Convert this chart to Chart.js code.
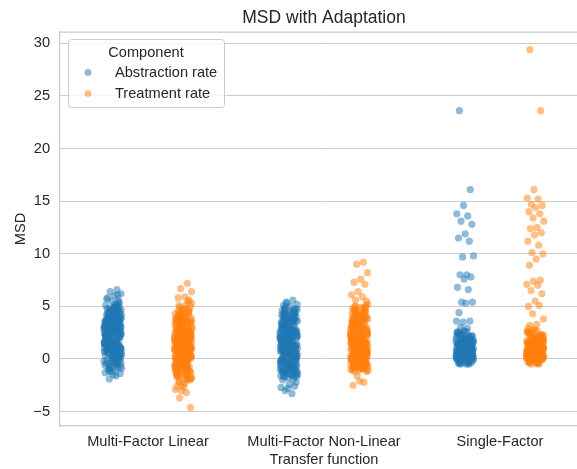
<!DOCTYPE html>
<html>
<head>
<meta charset="utf-8">
<script src="https://cdn.jsdelivr.net/npm/chart.js@4.4.1/dist/chart.umd.min.js"></script>
<style>
  html, body { margin: 0; padding: 0; background: #fff; overflow: hidden; }
  canvas { display: block; }
</style>
</head>
<body>
<canvas id="msd-chart" width="648" height="469"></canvas>
<script>
const CATEGORIES = ['Multi-Factor Linear', 'Multi-Factor Non-Linear', 'Single-Factor'];
const COMPONENTS = ['Abstraction rate', 'Treatment rate'];
const Y_TICKS = [-5, 0, 5, 10, 15, 20, 25, 30];

// MSD values, one array per strip
const linearAbstraction = [
  2.1, 3.4, 0.8, 1.7, 4.2, -0.3, 2.9, 1.2, 3.8, 0.4, 2.5, 5.1, 1.9, -0.8, 3.1,
  0.6, 2.2, 4.6, 1.4, 3.6, -1.1, 2.7, 0.1, 3.3, 1.8, 4.9, 0.9, 2.4, -0.5, 3.9,
  1.5, 2.8, 0.3, 4.4, 2.0, 1.1, 3.5, -0.1, 2.6, 4.0, 0.7, 3.2, 1.6, 5.3, -0.9,
  2.3, 3.7, 1.0, 4.7, 0.2, 2.9, 1.3, 3.0, -0.6, 4.3, 1.9, 2.5, 0.5, 3.6, 5.0,
  1.2, -0.2, 2.7, 4.1, 0.8, 3.4, 1.7, 2.1, -1.2, 3.8, 0.0, 4.8, 2.4, 1.4, 3.1,
  0.6, 2.0, 4.5, 1.8, -0.4, 3.3, 2.6, 0.9, 5.2, 1.5, 3.9, 0.3, 2.2, 4.2, -0.7,
  1.1, 2.8, 3.5, 0.4, 4.6, 1.6, 2.3, -1.0, 3.7, 0.7, 2.9, 4.0, 1.3, 3.0, 0.1,
  2.5, 5.4, 1.0, 3.2, -0.3, 2.1, 4.4, 0.5, 1.9, 3.6, 2.7, -0.9, 4.9, 1.2, 3.4,
  0.8, 2.4, 1.7, 4.3, 0.2, 3.8, 2.0, -0.5, 3.1, 1.4, 5.0, 0.6, 2.6, 4.7, 1.8,
  6.6, 6.4, 6.2, 6.0, 5.8, 5.6, 5.5, -1.3, -1.6, -1.9, -1.4, -1.5, 5.7, 6.1, -1.2,
  3.0, 1.4, 2.6, 0.2, 4.1, 1.9, 3.3, -0.6, 2.4, 4.6, 0.9, 3.7, 1.5, 2.8, 0.0,
  4.4, 2.1, 1.1, 3.5, -0.2, 2.9, 0.6, 4.0, 1.7, 3.2, 0.3, 2.3, 5.1, 1.2, 3.9,
  0.8, 2.7, -0.8, 4.3, 1.6, 3.4, 2.0, 0.5, 3.1, 1.3, 4.8, 2.5, -0.4, 3.6, 1.0,
  2.2, 4.5, 0.7, 3.0, 1.8, -0.1, 2.6, 4.2, 1.4, 3.8, 0.4, 2.9, 1.9, 5.0, 0.1,
  3.3, 1.5, 2.4, -0.7, 4.7, 2.0, 0.9, 3.5, 1.1, 2.8, 4.1, 0.6, 3.2, 1.7, -0.3,
  2.3, 3.9, 1.2, 4.4, 0.2, 2.7, 1.6, 3.6, -1.0, 2.1, 4.9, 0.8, 3.0, 1.3, 2.5,
  4.0, 0.5, 3.4, 1.8, 2.2, -0.5, 4.6, 1.0, 3.7, 2.6, 0.3, 3.1, 1.4, 4.3, 1.9,
  2.9, 0.0, 3.8, 2.4, 1.1, 4.2, 0.7, 3.3, 2.0, -0.2, 3.5, 1.5, 4.8, 2.7, 0.9
];
const linearTreatment = [
  1.2, 2.6, -0.4, 0.9, 3.5, -1.5, 2.0, 0.3, 4.1, -0.8, 1.7, 3.0, -2.0, 0.6, 2.4,
  4.8, -0.1, 1.4, 3.3, -1.1, 0.8, 2.2, 5.0, -0.6, 1.9, 0.0, 3.8, -1.8, 2.7, 1.0,
  0.4, 3.1, -0.3, 1.6, 4.4, -1.3, 2.5, 0.7, 2.9, -0.9, 1.1, 3.6, -2.2, 0.2, 2.1,
  1.5, -0.5, 4.0, 0.9, 2.8, -1.6, 1.3, 3.4, 0.1, 5.2, -0.2, 2.3, 1.8, -1.0, 3.9,
  0.5, 2.0, -1.4, 4.6, 1.2, -0.7, 2.6, 0.3, 3.2, -1.9, 1.7, 0.8, 4.3, -0.4, 2.4,
  1.0, 3.7, -1.2, 0.6, 2.9, -0.1, 1.4, 5.3, -2.3, 2.2, 0.0, 3.5, 1.6, -0.8, 4.9,
  0.4, 2.7, -1.7, 1.1, 3.0, -0.6, 1.9, 4.2, 0.2, 2.5, -1.3, 0.7, 3.3, 1.5, -0.3,
  2.1, 4.5, -0.9, 1.3, 3.8, -2.1, 0.9, 2.8, 0.1, -1.1, 1.8, 3.6, -0.5, 2.3, 4.7,
  0.5, 1.0, -1.5, 3.1, 2.0, -0.2, 4.0, 0.8, 1.6, -0.7, 2.6, 5.1, -1.8, 1.2, 3.4,
  7.2, 6.7, 6.4, 5.9, 5.8, 5.6, -2.5, -2.9, -3.2, -3.7, -4.6, -2.7, -2.6, 5.5, -3.0,
  0.9, 2.3, -0.7, 1.6, 3.2, -0.1, 2.8, 0.4, 3.9, -1.2, 1.3, 2.6, 0.0, 4.3, -0.5,
  1.9, 3.5, 0.7, -1.6, 2.1, 4.6, 1.1, -0.3, 2.9, 0.5, 3.7, -0.9, 1.7, 2.4, 0.2,
  4.0, -1.4, 1.4, 3.1, 0.8, -0.2, 2.5, 1.0, 4.8, -0.6, 2.0, 3.4, 0.3, -1.9, 1.5,
  2.7, 0.1, 3.8, 1.2, -0.8, 2.2, 4.4, 0.6, -1.1, 1.8, 3.0, -0.4, 2.6, 1.4, 0.0,
  3.6, -1.5, 0.9, 2.3, 4.1, -0.1, 1.6, 0.4, 3.3, -0.7, 2.0, 1.1, 4.7, -1.3, 2.8,
  0.7, 1.9, 3.5, -0.5, 1.3, 2.5, 0.2, -1.7, 3.9, 1.0, 0.5, 2.2, -0.9, 4.2, 1.7,
  -0.2, 3.0, 0.8, 2.7, -1.0, 1.5, 3.6, 0.1, 2.4, -0.6, 4.5, 1.2, 0.3, 3.2, -1.4,
  2.1, 0.6, 3.8, -0.3, 1.8, 2.9, 0.0, 4.0, -2.0, 1.4, 2.6, 0.9, -0.8, 3.4, 1.1
];
const nonLinearAbstraction = [
  1.5, 2.8, -0.6, 0.9, 3.7, -1.4, 2.2, 0.3, 4.1, -0.2, 1.8, 3.2, -1.0, 0.6, 2.6,
  4.5, 0.0, 1.2, 3.5, -1.6, 0.8, 2.0, 4.8, -0.8, 1.6, 0.2, 3.9, -1.2, 2.9, 1.0,
  0.4, 3.0, -0.4, 1.4, 4.3, -1.7, 2.4, 0.7, 2.7, -0.9, 1.1, 3.6, -1.3, 0.1, 2.1,
  1.7, -0.3, 4.0, 0.5, 3.3, -1.5, 1.3, 3.1, -0.1, 4.6, 0.9, 2.3, 1.9, -1.1, 3.8,
  0.6, 2.5, -0.7, 4.4, 1.2, -1.8, 2.8, 0.3, 3.4, -0.5, 1.5, 0.8, 4.2, -1.0, 2.0,
  1.0, 3.7, -0.2, 0.4, 2.9, -1.4, 1.6, 4.7, 0.0, 2.2, -0.6, 3.5, 1.8, -1.6, 4.9,
  0.2, 2.6, -0.9, 1.1, 3.0, -0.3, 1.9, 4.1, 0.7, 2.4, -1.2, 0.5, 3.3, 1.4, -0.8,
  2.1, 4.5, -0.4, 1.3, 3.9, -1.7, 0.9, 2.7, 0.1, -1.1, 1.7, 3.6, -0.1, 2.3, 4.3,
  0.6, 1.0, -1.5, 3.2, 2.0, -0.5, 4.0, 0.8, 1.5, -0.7, 2.5, 4.8, -1.3, 1.2, 3.4,
  5.6, 5.4, 5.2, 5.0, 5.1, -2.6, -2.8, -2.7, -3.3, -3.0, -2.2, -2.4, -2.0, -1.9, 5.3,
  2.0, 0.5, 3.4, -0.9, 1.3, 4.2, 0.1, 2.7, -1.4, 1.8, 3.8, 0.7, -0.4, 2.4, 1.1,
  4.5, -1.1, 0.9, 3.1, 1.6, -0.2, 2.2, 4.0, 0.3, -1.6, 1.4, 3.5, 0.8, 2.9, -0.7,
  1.9, 0.0, 4.4, 1.2, -1.0, 2.6, 3.3, 0.4, -0.5, 1.7, 3.9, 0.6, 2.1, -1.3, 1.0,
  4.7, 0.2, 2.8, -0.8, 1.5, 3.6, 0.9, -0.1, 2.3, 4.1, -1.5, 1.2, 3.0, 0.5, 2.5,
  -0.6, 1.8, 4.3, 0.0, 2.0, -1.2, 3.2, 1.4, 0.7, 3.7, -0.3, 2.6, 1.1, 4.6, -0.9,
  1.6, 0.3, 2.9, -1.7, 1.0, 3.4, 0.8, 2.2, -0.4, 4.0, 1.3, 0.1, 3.1, -1.1, 1.9,
  2.7, 0.6, 4.4, -0.6, 1.5, 3.5, 0.4, 2.4, -1.4, 1.2, 3.8, 0.9, -0.2, 2.1, 4.8,
  0.2, 1.7, 3.3, -0.8, 2.5, 1.0, 4.2, -1.0, 0.5, 2.8, 1.6, 3.9, -0.5, 1.3, 0.7
];
const nonLinearTreatment = [
  1.8, 3.0, 0.2, 1.2, 3.9, -0.8, 2.4, 0.7, 4.5, 0.0, 2.0, 3.4, -0.4, 1.0, 2.7,
  4.9, 0.4, 1.6, 3.7, -1.0, 1.3, 2.3, 5.1, -0.2, 1.9, 0.6, 4.2, -0.6, 3.1, 1.4,
  0.9, 3.3, 0.1, 1.7, 4.6, -1.2, 2.6, 1.1, 2.9, -0.3, 1.5, 3.8, -0.9, 0.5, 2.2,
  2.0, 0.3, 4.3, 0.8, 3.5, -0.7, 1.6, 3.2, 0.0, 4.8, 1.2, 2.5, 2.1, -0.5, 4.0,
  1.0, 2.8, -0.1, 4.7, 1.4, -1.1, 3.0, 0.6, 3.6, 0.2, 1.8, 1.1, 4.4, -0.4, 2.3,
  1.3, 3.9, 0.4, 0.8, 3.1, -0.8, 1.9, 5.2, 0.1, 2.4, -0.2, 3.7, 2.0, -0.6, 4.1,
  0.7, 2.7, -0.3, 1.5, 3.3, 0.3, 2.2, 4.5, 0.9, 2.6, -1.0, 1.0, 3.4, 1.7, 0.0,
  2.5, 4.9, 0.2, 1.6, 4.2, -0.7, 1.2, 2.9, 0.5, -0.5, 2.1, 3.8, 0.4, 2.8, 4.6,
  1.1, 1.4, -0.9, 3.5, 2.3, 0.1, 4.0, 1.3, 1.8, -0.1, 2.7, 5.0, -0.4, 1.5, 3.6,
  9.2, 9.0, 8.2, 7.6, 7.3, 7.1, 6.4, 6.1, 5.9, 5.6, 5.5, -2.1, -2.5, -2.2, -1.6,
  2.2, 0.6, 3.6, -0.4, 1.5, 4.3, 0.9, 2.8, -0.8, 1.9, 3.9, 1.1, 0.2, 2.5, 1.4,
  4.7, -0.2, 1.2, 3.2, 1.8, 0.4, 2.4, 4.1, 0.7, -1.0, 1.6, 3.7, 1.0, 3.0, -0.5,
  2.0, 0.3, 4.5, 1.3, -0.6, 2.7, 3.4, 0.8, 0.0, 1.8, 4.0, 0.9, 2.3, -0.9, 1.2,
  4.9, 0.5, 3.1, -0.3, 1.7, 3.8, 1.1, 0.1, 2.5, 4.2, -1.1, 1.4, 3.2, 0.7, 2.6,
  -0.1, 2.0, 4.4, 0.4, 2.2, -0.7, 3.5, 1.6, 0.9, 3.9, 0.2, 2.8, 1.3, 4.8, -0.4,
  1.8, 0.6, 3.0, -1.2, 1.2, 3.6, 1.0, 2.4, 0.0, 4.1, 1.5, 0.3, 3.3, -0.6, 2.1,
  2.9, 0.8, 4.6, -0.2, 1.7, 3.7, 0.5, 2.6, -0.9, 1.4, 4.0, 1.1, 0.1, 2.3, 5.0,
  0.4, 1.9, 3.4, -0.5, 2.7, 1.2, 4.3, -0.8, 0.7, 3.1, 1.8, 4.0, 0.0, 1.5, 0.9
];
const singleAbstraction = [
  0.3, 1.2, 0.0, 0.8, 2.1, 0.5, 1.6, -0.2, 0.9, 1.9, 0.1, 1.4, 0.6, 2.4, 0.2,
  1.1, -0.4, 0.7, 1.8, 0.4, 1.3, 0.0, 2.2, 0.9, -0.1, 1.5, 0.3, 1.0, 2.6, 0.6,
  0.1, 1.7, 0.5, -0.3, 1.2, 0.8, 2.0, 0.2, 1.4, 0.0, 0.7, 1.9, -0.5, 1.1, 0.4,
  2.3, 0.9, 0.1, 1.6, 0.6, -0.2, 1.3, 0.3, 2.5, 1.0, 0.0, 0.8, 1.8, 0.5, -0.1,
  1.5, 0.2, 1.1, 2.1, 0.7, 0.1, 1.4, -0.4, 0.9, 1.7, 0.3, 2.4, 0.6, 1.2, 0.0,
  0.4, 1.9, -0.3, 1.0, 0.8, 2.2, 0.2, 1.6, 0.5, 0.1, 1.3, 2.7, 0.7, -0.2, 1.1,
  0.3, 1.5, 0.0, 2.0, 0.9, 0.4, 1.8, -0.1, 0.6, 1.4, 2.6, 0.2, 1.2, 0.8, -0.5,
  23.6, 16.1, 14.6, 13.8, 13.6, 13.1, 12.8, 11.9, 11.5, 11.2, 9.7, 9.8, 8.0, 8.0,
  7.8, 7.6, 6.8, 6.6, 5.4, 5.4, 5.3, 4.4, 3.6, 3.5, 3.6, 2.9, 3.0,
  0.6, 0.1, 1.3, 0.4, 2.0, -0.1, 0.9, 0.3, 1.6, 0.7, 0.0, 1.1, 2.3, 0.5, -0.3,
  1.4, 0.2, 0.8, 1.9, 0.4, -0.4, 1.0, 0.6, 2.5, 0.1, 1.2, 0.3, 1.7, 0.9, -0.2,
  0.5, 2.1, 0.0, 1.5, 0.7, 0.2, 1.1, -0.5, 0.8, 1.8, 0.4, 2.4, 0.1, 1.3, 0.6,
  -0.1, 0.9, 2.2, 0.3, 1.6, 0.0, 0.7, 1.0, -0.3, 1.4, 0.5, 2.6, 0.2, 1.2, 0.8,
  0.4, 1.9, -0.2, 0.6, 1.5, 0.1, 2.0, 0.9, 0.3, 1.1, -0.4, 1.7, 0.5, 0.0, 1.3
];
const singleTreatment = [
  0.4, 1.3, 0.1, 0.9, 2.2, 0.6, 1.7, -0.1, 1.0, 2.0, 0.2, 1.5, 0.7, 2.5, 0.3,
  1.2, -0.3, 0.8, 1.9, 0.5, 1.4, 0.0, 2.3, 1.0, 0.1, 1.6, 0.4, 1.1, 2.7, 0.7,
  0.2, 1.8, 0.6, -0.4, 1.3, 0.9, 2.1, 0.3, 1.5, 0.0, 0.8, 2.0, -0.5, 1.2, 0.5,
  2.4, 1.0, 0.2, 1.7, 0.7, -0.2, 1.4, 0.4, 2.6, 1.1, 0.1, 0.9, 1.9, 0.6, 0.0,
  1.6, 0.3, 1.2, 2.2, 0.8, 0.2, 1.5, -0.3, 1.0, 1.8, 0.4, 2.5, 0.7, 1.3, 0.1,
  0.5, 2.0, -0.1, 1.1, 0.9, 2.3, 0.3, 1.7, 0.6, 0.2, 1.4, 2.8, 0.8, 0.0, 1.2,
  0.4, 1.6, 0.1, 2.1, 1.0, 0.5, 1.9, -0.2, 0.7, 1.5, 2.9, 0.3, 1.3, 0.9, -0.4,
  29.4, 23.6, 16.1, 15.3, 15.2, 14.7, 14.6, 14.4, 14.0, 13.8, 13.4, 13.1, 12.5,
  12.4, 12.0, 11.8, 11.2, 10.8, 10.1, 10.0, 9.5, 8.9, 7.5, 7.4, 7.1, 7.0, 6.5,
  6.2, 5.5, 5.0, 5.1, 4.3, 3.8, 3.3, 3.2,
  0.7, 0.2, 1.4, 0.5, 2.1, 0.0, 1.0, 0.4, 1.7, 0.8, 0.1, 1.2, 2.4, 0.6, -0.2,
  1.5, 0.3, 0.9, 2.0, 0.5, -0.3, 1.1, 0.7, 2.6, 0.2, 1.3, 0.4, 1.8, 1.0, -0.1,
  0.6, 2.2, 0.1, 1.6, 0.8, 0.3, 1.2, -0.5, 0.9, 1.9, 0.5, 2.5, 0.2, 1.4, 0.7,
  0.0, 1.0, 2.3, 0.4, 1.7, 0.1, 0.8, 1.1, -0.4, 1.5, 0.6, 2.7, 0.3, 1.3, 0.9,
  0.5, 2.0, -0.1, 0.7, 1.6, 0.2, 2.1, 1.0, 0.4, 1.2, -0.3, 1.8, 0.6, 0.1, 1.4
];

const BLUE = 'rgba(31, 119, 180, 0.5)';
const ORANGE = 'rgba(255, 127, 14, 0.5)';
const TEXT = '#262626';
const GRID = '#cccccc';
const FONT = '"Liberation Sans", Arial, sans-serif';

// strip jitter, spread evenly instead of random (seaborn uses +-0.05 with dodge)
function jitter(i) {
  return (((i * 0.618034 + 0.3) % 1) - 0.5) * 0.1;
}

function stripPoints(groups, dodge) {
  const pts = [];
  groups.forEach((vals, c) => {
    vals.forEach((v, i) => pts.push({ x: c + dodge + jitter(i), y: v }));
  });
  return pts;
}

const frame = {
  id: 'frame',
  beforeDatasetsDraw(chart) {
    const { ctx, chartArea: a } = chart;
    ctx.save();
    ctx.strokeStyle = GRID;
    ctx.lineWidth = 1.25;
    ctx.beginPath();
    ctx.moveTo(a.left, a.top);
    ctx.lineTo(a.right, a.top);
    ctx.lineTo(a.right, a.bottom);
    ctx.stroke();
    ctx.restore();
  },
  afterDraw(chart) {
    const { ctx, chartArea: a } = chart;
    ctx.save();
    // title
    ctx.fillStyle = TEXT;
    ctx.font = '17.5px ' + FONT;
    ctx.textAlign = 'center';
    ctx.textBaseline = 'middle';
    ctx.fillText('MSD with Adaptation', (a.left + a.right) / 2, 18.5);

    // legend box
    const x0 = a.left + 8, y0 = a.top + 7, w = 156, h = 68, r = 3;
    ctx.beginPath();
    ctx.roundRect(x0 + 0.5, y0 + 0.5, w, h, r);
    ctx.fillStyle = 'rgba(255,255,255,0.8)';
    ctx.fill();
    ctx.strokeStyle = GRID;
    ctx.lineWidth = 1;
    ctx.stroke();

    ctx.fillStyle = TEXT;
    ctx.font = '14.6px ' + FONT;
    ctx.fillText('Component', x0 + w / 2, y0 + 13.5);
    const colors = [BLUE, ORANGE];
    COMPONENTS.forEach((name, k) => {
      const cy = y0 + 33.5 + k * 21;
      ctx.beginPath();
      ctx.arc(x0 + 20, cy, 3.5, 0, Math.PI * 2);
      ctx.fillStyle = colors[k];
      ctx.fill();
      ctx.fillStyle = TEXT;
      ctx.textAlign = 'left';
      ctx.fillText(name, x0 + 47, cy);
    });
    ctx.restore();
  }
};

new Chart(document.getElementById('msd-chart'), {
  type: 'scatter',
  data: {
    datasets: [
      {
        label: COMPONENTS[0],
        data: stripPoints([linearAbstraction, nonLinearAbstraction, singleAbstraction], -0.2),
        backgroundColor: BLUE,
        borderWidth: 0,
        pointRadius: 3.6
      },
      {
        label: COMPONENTS[1],
        data: stripPoints([linearTreatment, nonLinearTreatment, singleTreatment], 0.2),
        backgroundColor: ORANGE,
        borderWidth: 0,
        pointRadius: 3.6
      }
    ]
  },
  options: {
    responsive: false,
    animation: false,
    devicePixelRatio: 1,
    layout: { padding: { top: 32, right: 60, left: 0, bottom: 0 } },
    plugins: {
      legend: { display: false },
      tooltip: { enabled: false }
    },
    scales: {
      x: {
        type: 'linear',
        min: -0.5,
        max: 2.5,
        afterBuildTicks: s => { s.ticks = CATEGORIES.map((c, i) => ({ value: i })); },
        afterFit: s => { s.height = 43; },
        grid: { display: false, drawTicks: false },
        border: { display: true, color: GRID, width: 1.25 },
        ticks: {
          padding: 7,
          color: TEXT,
          font: { family: FONT, size: 14.6 },
          maxRotation: 0,
          callback: v => CATEGORIES[v]
        },
        title: {
          display: true,
          text: 'Transfer function',
          color: TEXT,
          font: { family: FONT, size: 14.6 },
          padding: { top: 0, bottom: 0 }
        }
      },
      y: {
        min: -6.37,
        max: 31.08,
        afterBuildTicks: s => { s.ticks = Y_TICKS.map(v => ({ value: v })); },
        afterFit: s => { s.width = 60; },
        grid: { color: GRID, lineWidth: 1, drawTicks: false },
        border: { display: true, color: GRID, width: 1.25 },
        ticks: {
          padding: 10,
          color: TEXT,
          font: { family: FONT, size: 14.6 },
          callback: v => (v < 0 ? '\u2212' + Math.abs(v) : String(v))
        },
        title: {
          display: true,
          text: 'MSD',
          color: TEXT,
          font: { family: FONT, size: 14.6 },
          padding: { top: 12, bottom: 0 }
        }
      }
    }
  },
  plugins: [frame]
});
</script>
</body>
</html>
